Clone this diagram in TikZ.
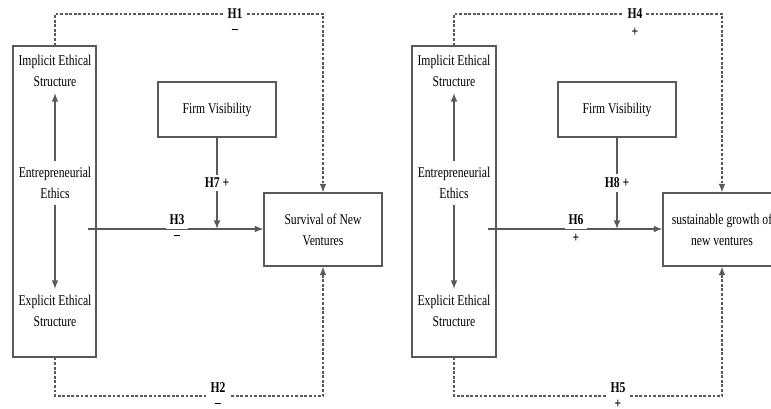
\documentclass[tikz,border=0pt]{standalone}
\usepackage{fontspec}
\setmainfont[FakeStretch=0.78]{Liberation Serif}
\usepackage{tikz}

\begin{document}
\begin{tikzpicture}[x=0.02cm,y=-0.02cm,
	every node/.style={font=\fontsize{8.5}{12}\selectfont,align=center,text=black},
	box/.style={draw=black!65,rectangle,line width=0.7pt,minimum width=2.36cm},
	hyp/.style={fill=white,font=\fontsize{8.5}{12}\selectfont\bfseries,inner sep=2pt},
	sgn/.style={font=\fontsize{8.5}{12}\selectfont\bfseries,inner sep=0pt},
	link/.style={draw=black!65,line width=0.7pt,->,>=latex},
	dlink/.style={link,dash pattern=on 1.6pt off 1pt}]
			\useasboundingbox (0,0) rectangle (771,409);
			\clip (0,0) rectangle (771,409);
			% left model
			\node[box,minimum width=1.66cm,minimum height=6.22cm] (EthL) at (54.5,201.5) {};
			\node (ImpL) at (55,71) {Implicit Ethical\\Structure};
			\node (EntL) at (55,183) {Entrepreneurial\\Ethics};
			\node (ExpL) at (55,311) {Explicit Ethical\\Structure};
			\node[box,minimum height=1.1cm] (VisL) at (217,109.5) {Firm Visibility};
			\node[box,minimum height=1.46cm] (SurL) at (323,229.5) {Survival of New\\Ventures};
			\coordinate (StL) at (88,229);
			\coordinate (TopL) at (55,14);
			\coordinate (BotL) at (55,396);
			\draw[link] (EntL) -- (ImpL);
			\draw[link] (EntL) -- (ExpL);
			\draw[link] (StL) -- (StL -| SurL.west);
			\draw[link] (VisL) -- (VisL |- StL);
			\draw[dlink] (TopL |- EthL.north) -- (TopL) -| (SurL.north);
			\draw[dlink] (BotL |- EthL.south) -- (BotL) -| (SurL.south);
			\node[hyp] at (235,14) {H1};
			\node[sgn] at (235,31) {--};
			\node[hyp] at (177,220) {H3};
			\node[sgn] at (177,237) {--};
			\node[hyp] at (217,183) {H7 +};
			\node[hyp,inner sep=2.5pt] at (218,388) {H2};
			\node[sgn] at (218,405) {--};
			% right model
			\node[box,minimum width=1.68cm,minimum height=6.22cm] (EthR) at (454,201.5) {};
			\node (ImpR) at (454,71) {Implicit Ethical\\Structure};
			\node (EntR) at (454,183) {Entrepreneurial\\Ethics};
			\node (ExpR) at (454,311) {Explicit Ethical\\Structure};
			\node[box,minimum height=1.1cm] (VisR) at (617,109.5) {Firm Visibility};
			\node[box,minimum height=1.46cm] (GroR) at (722,229.5) {sustainable growth of\\new ventures};
			\coordinate (StR) at (488,229);
			\coordinate (TopR) at (454,14);
			\coordinate (BotR) at (454,396);
			\draw[link] (EntR) -- (ImpR);
			\draw[link] (EntR) -- (ExpR);
			\draw[link] (StR) -- (StR -| GroR.west);
			\draw[link] (VisR) -- (VisR |- StR);
			\draw[dlink] (TopR |- EthR.north) -- (TopR) -| (GroR.north);
			\draw[dlink] (BotR |- EthR.south) -- (BotR) -| (GroR.south);
			\node[hyp] at (635,14) {H4};
			\node[sgn] at (635,32) {+};
			\node[hyp] at (576,220) {H6};
			\node[sgn] at (576,238) {+};
			\node[hyp] at (617,183) {H8 +};
			\node[hyp,inner sep=2.5pt] at (618,388) {H5};
			\node[sgn] at (618,404) {+};
		\end{tikzpicture}
\end{document}
